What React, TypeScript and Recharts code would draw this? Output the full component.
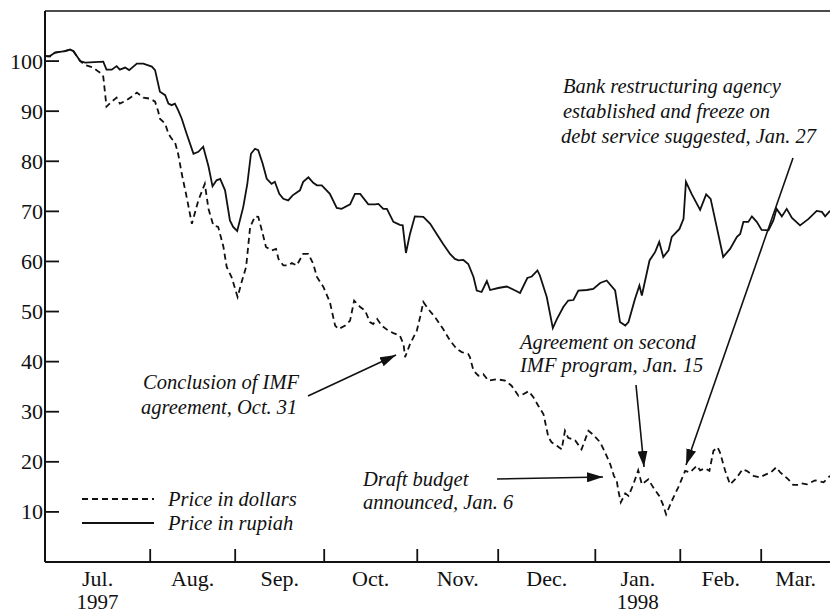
import React from "react";
import { LineChart, Line, XAxis, YAxis, ReferenceLine } from "recharts";

// trading-day index since late June 1997
const rupiahDay = [
  0, 1.2, 2.5, 4.9, 6.2, 7.0, 8.7, 9.9, 14.4, 15.2, 16.5, 17.7, 18.5, 19.8, 20.8, 22.7, 24.3, 26.4, 27.2,
  28.4, 29.7, 30.5, 31.3, 32.1, 32.9, 33.8, 35.0, 36.7, 37.9, 39.1, 40.4, 41.4, 42.4, 43.3, 44.5, 45.7,
  46.5, 47.5, 49.0, 50.0, 50.9, 51.9, 52.7, 53.8, 54.8, 56.0, 56.8, 57.9, 58.9, 60.1, 61.2, 63.0, 63.8,
  65.1, 66.3, 67.2, 68.4, 70.4, 72.1, 73.3, 75.4, 76.6, 77.9, 79.9, 81.6, 82.4, 83.6, 84.5, 86.1, 87.7,
  88.4, 89.2, 90.2, 91.4, 93.5, 95.2, 96.8, 98.4, 100.1, 101.3, 102.2, 103.4, 104.6, 105.9, 106.7, 107.9,
  109.2, 110.0, 112.0, 114.1, 116.2, 117.4, 119.2, 120.3, 121.7, 122.3, 124.0, 125.5, 126.5, 128.1, 129.3,
  130.6, 131.8, 133.9, 135.5, 137.2, 138.8, 140.9, 142.1, 143.4, 144.2, 145.8, 146.9, 147.5, 149.4, 150.8,
  151.8, 152.8, 154.1, 154.9, 156.8, 157.8, 158.4, 159.8, 161.9, 163.4, 164.5, 166.0, 167.6, 169.3, 171.0,
  171.8, 172.6, 173.8, 174.7, 175.9, 177.1, 178.8, 180.0, 180.8, 182.1, 183.3, 184.6, 186.6, 188.7, 190.7,
  192.0, 192.8, 194.0,
];
const rupiahValue = [
  101, 101, 101.7, 102, 102.3, 102, 100, 99.7, 99.9, 98.3, 98.3, 99, 98.3, 98.7, 98.2, 99.5, 99.5, 98.9, 98.2,
  93.9, 93.2, 91.5, 91.2, 91.5, 90.2, 88.5, 85.5, 81.5, 81.9, 82.9, 79, 75, 76.2, 76.5, 74.2, 68.2,
  66.9, 66.1, 70.9, 75.5, 81.5, 82.5, 82.2, 79.5, 76.5, 75.5, 75.9, 73.5, 72.5, 72.2, 73.2, 74.2, 75.9,
  76.8, 75.7, 75.2, 75.2, 73.5, 70.7, 70.5, 71.4, 73.5, 73.5, 71.4, 71.4, 71.5, 70.5, 70.5, 67.9, 67.3,
  67.2, 61.7, 65.5, 69, 68.9, 67.5, 65.5, 63.5, 61.5, 60.5, 60.2, 60.3, 59.5, 56.9, 54.2, 53.9,
  56.1, 54.3, 54.7, 55, 54.2, 53.7, 56.7, 57, 58.2, 57.2, 52.9, 46.7, 48.5, 50.9, 52.2,
  52.3, 54.2, 54.3, 54.5, 55.7, 56.2, 54.2, 47.9, 47.2, 47.9, 52.5, 55.2, 53.2, 60.2, 61.9,
  63.9, 60.9, 62.2, 64.9, 66.5, 68.5, 75.9, 73.5, 70.3, 73.4, 72.5, 66.9, 60.9, 62.5, 64.9,
  65.5, 67.9, 67.9, 69, 67.9, 66.3, 66.2, 68.2, 70.5, 69, 70.5, 68.7, 67.2, 68.5, 70.1,
  69.9, 69, 70.1,
];

const dollarDay = [
  0, 1.2, 2.5, 4.9, 6.2, 7.0, 8.7, 9.9, 11.9, 13.2, 14.0, 14.4, 15.2, 16.5, 17.7, 18.5, 20.2, 21.4, 22.7,
  24.3, 26.0, 27.2, 28.0, 28.4, 29.7, 30.5, 31.3, 32.1, 32.9, 33.8, 35.0, 36.3, 37.9, 39.5, 40.4, 41.6,
  42.8, 44.1, 44.9, 46.1, 47.6, 48.6, 49.7, 50.7, 51.9, 52.7, 53.6, 54.6, 56.0, 57.1, 57.7, 58.9, 60.1,
  61.0, 62.2, 63.8, 65.1, 66.3, 67.2, 68.8, 70.4, 71.7, 72.5, 74.2, 75.4, 76.4, 77.9, 79.1, 80.3, 81.1,
  82.1, 83.2, 84.8, 86.1, 87.7, 88.6, 89.0, 90.2, 91.9, 92.7, 93.5, 94.7, 96.4, 98.4, 100.1, 101.8, 103.0,
  104.6, 105.0, 105.9, 107.1, 108.3, 109.6, 111.6, 113.7, 115.3, 117.0, 118.2, 119.5, 120.7, 121.9, 123.2,
  124.4, 125.2, 126.5, 127.7, 128.5, 129.3, 131.0, 132.6, 134.3, 135.5, 137.2, 138.4, 139.7, 140.6, 141.3,
  141.7, 142.3, 143.4, 144.2, 145.4, 146.6, 147.5, 149.1, 150.3, 151.8, 152.7, 153.5, 154.9, 156.5, 158.2,
  159.4, 161.1, 161.9, 163.1, 164.2, 165.2, 166.2, 166.8, 168.1, 169.3, 171.0, 172.4, 173.4, 175.1, 176.7,
  177.9, 179.4, 180.7, 181.7, 183.7, 184.9, 186.2, 187.0, 188.3, 190.3, 192.4, 194.0,
];
const dollarValue = [
  101, 100.9, 101.7, 102, 102.3, 102, 100, 99.2, 98.7, 97.9, 97.5, 96.9, 90.9, 91.9, 92.7, 91.5, 92.2, 92.9, 93.7,
  92.7, 92.5, 91.9, 89.9, 88.5, 87.5, 85.5, 84.5, 83.9, 81.5, 77.5, 72.9, 67.5, 72.2, 75.5, 70.5, 67.2,
  66.9, 62.9, 58.9, 56.9, 52.9, 55.9, 58.9, 66.9, 69, 68.9, 66.2, 62.9, 62.2, 62.5, 60.5, 59.2, 59.2,
  59.7, 59.2, 61.5, 61.5, 59.5, 56.9, 54.9, 51.9, 47.2, 46.5, 47.2, 48.2, 52.2, 50.9, 50.2, 47.9, 47.5,
  48.5, 47.2, 46.2, 45.7, 45.2, 43.5, 40.9, 43.5, 46.2, 48.9, 51.9, 50.5, 48.9, 46.5, 44.2, 42.5, 41.9,
  41.5, 40.9, 38.2, 37.2, 37.5, 36.2, 36.5, 36.2, 35.2, 33.2, 33.5, 34.1, 32.9, 31.2, 29.5,
  24.9, 23.9, 23.2, 22.5, 26.2, 24.8, 24.3, 22.5, 26.2, 25.4, 23.9, 21.9, 19.5, 17.2, 16.2,
  14.2, 11.9, 13.7, 13.2, 15.5, 18.3, 15.5, 16.5, 14.9, 13.2, 11.5, 9.5, 12.2, 14.9, 18.2,
  17.9, 19.2, 18.3, 18.7, 18.2, 22.2, 22.9, 21.9, 18.2, 15.5, 16.9, 18.5, 18.2, 17.2, 16.9,
  17.4, 17.9, 18.9, 17.9, 16.5, 15.4, 15.4, 15.7, 15.5, 16.3, 15.9, 17.2,
];

// month boundaries (trading days) and labels
const monthStarts = [0, 26, 47, 69, 92, 112, 136, 157, 177, 194];
const monthNames = ["Jul.", "Aug.", "Sep.", "Oct.", "Nov.", "Dec.", "Jan.", "Feb.", "Mar."];
const monthYears = ["1997", "", "", "", "", "", "1998", "", ""];
const yTicks = [10, 20, 30, 40, 50, 60, 70, 80, 90, 100];

const rupiahData = rupiahDay.map((d, i) => ({ day: d, v: rupiahValue[i] }));
const dollarData = dollarDay.map((d, i) => ({ day: d, v: dollarValue[i] }));

const boundaries = monthStarts.slice(1, -1);
const labelPos = monthNames.map((_, i) => (monthStarts[i] + monthStarts[i + 1]) / 2);
const xTicks = [...boundaries, ...labelPos].sort((a, b) => a - b);

const FONT = "'Liberation Serif', 'DejaVu Serif', serif";
const INK = "#111";

function XTick(props: any) {
  const { x, y, payload } = props;
  const v = payload.value;
  if (boundaries.includes(v)) {
    return <line x1={x} x2={x} y1={y} y2={y - 13} stroke={INK} strokeWidth={1.8} />;
  }
  const i = labelPos.indexOf(v);
  return (
    <g>
      <text x={x} y={y + 24} textAnchor="middle" fontFamily={FONT} fontSize={22} fill={INK}>
        {monthNames[i]}
      </text>
      {monthYears[i] && (
        <text x={x} y={y + 47} textAnchor="middle" fontFamily={FONT} fontSize={21} fill={INK}>
          {monthYears[i]}
        </text>
      )}
    </g>
  );
}

function YTick(props: any) {
  const { x, y, payload } = props;
  return (
    <g>
      <line x1={x} x2={x + 14} y1={y} y2={y} stroke={INK} strokeWidth={1.8} />
      <text x={x - 2} y={y} dy="0.34em" textAnchor="end" fontFamily={FONT} fontSize={22} fill={INK}>
        {payload.value}
      </text>
    </g>
  );
}

const note = { fontFamily: FONT, fontSize: 20.5, fontStyle: "italic" as const, fill: INK };

function Notes() {
  return (
    <svg width={830} height={616} style={{ position: "absolute", left: 0, top: 0, pointerEvents: "none" }}>
      <defs>
        <marker id="head" viewBox="0 0 16 10" refX="16" refY="5" markerWidth="16" markerHeight="10" markerUnits="userSpaceOnUse" orient="auto">
          <path d="M0,0 L16,5 L0,10 z" fill={INK} />
        </marker>
      </defs>
      <text x={563} y={93} {...note}>Bank restructuring agency</text>
      <text x={563} y={118} {...note}>established and freeze on</text>
      <text x={561} y={143} {...note}>debt service suggested, Jan. 27</text>
      <line x1={793} y1={158} x2={686} y2={465} stroke={INK} strokeWidth={1.6} markerEnd="url(#head)" />

      <text x={143} y={389} {...note}>Conclusion of IMF</text>
      <text x={141} y={414} {...note}>agreement, Oct. 31</text>
      <line x1={308} y1={396} x2={396} y2={355} stroke={INK} strokeWidth={1.6} markerEnd="url(#head)" />

      <text x={520} y={349} {...note}>Agreement on second</text>
      <text x={520} y={372} {...note}>IMF program, Jan. 15</text>
      <line x1={636} y1={385} x2={644} y2={467} stroke={INK} strokeWidth={1.6} markerEnd="url(#head)" />

      <text x={363} y={486} {...note}>Draft budget</text>
      <text x={363} y={509} {...note}>announced, Jan. 6</text>
      <line x1={497} y1={479} x2={603} y2={477} stroke={INK} strokeWidth={1.6} markerEnd="url(#head)" />

      <line x1={82} y1={499} x2={154} y2={499} stroke={INK} strokeWidth={1.8} strokeDasharray="6 4" />
      <line x1={82} y1={523} x2={154} y2={523} stroke={INK} strokeWidth={1.8} />
      <text x={168} y={506} {...note}>Price in dollars</text>
      <text x={168} y={530} {...note}>Price in rupiah</text>
    </svg>
  );
}

export default function App() {
  return (
    <div style={{ position: "absolute", left: 0, top: 0, width: 830, height: 616, background: "#fff" }}>
      <LineChart width={830} height={616} margin={{ top: 11, right: 0, left: 0, bottom: 0 }}>
        <XAxis
          dataKey="day"
          type="number"
          domain={[0, 194]}
          ticks={xTicks}
          interval={0}
          height={54}
          tickSize={0}
          tickMargin={0}
          tick={<XTick />}
          axisLine={{ stroke: INK, strokeWidth: 2 }}
          allowDataOverflow
        />
        <YAxis
          type="number"
          domain={[0, 110]}
          ticks={yTicks}
          width={45}
          tickSize={0}
          tickMargin={0}
          tick={<YTick />}
          axisLine={{ stroke: INK, strokeWidth: 2 }}
          allowDataOverflow
        />
        <ReferenceLine y={110} stroke={INK} strokeWidth={1.6} />
        <Line data={dollarData} dataKey="v" type="linear" stroke={INK} strokeWidth={1.8} strokeDasharray="6 4" dot={false} isAnimationActive={false} />
        <Line data={rupiahData} dataKey="v" type="linear" stroke={INK} strokeWidth={1.8} dot={false} isAnimationActive={false} />
      </LineChart>
      <Notes />
    </div>
  );
}
